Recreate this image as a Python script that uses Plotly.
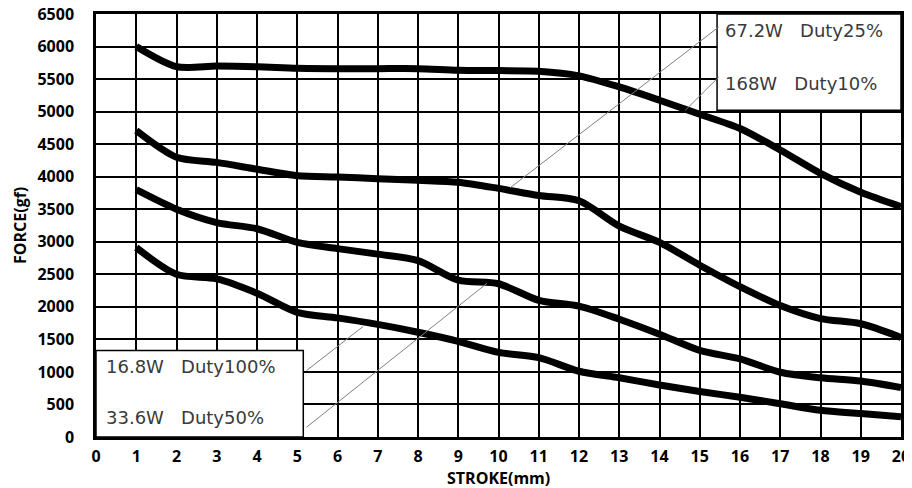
import plotly.graph_objects as go

stroke = list(range(1, 21))
force_168w = [6000, 5690, 5700, 5690, 5665, 5660, 5660, 5660, 5635, 5630, 5620, 5550, 5380, 5175, 4960, 4740, 4410, 4050, 3760, 3540]
force_67w = [4710, 4300, 4220, 4115, 4015, 3995, 3970, 3945, 3915, 3820, 3710, 3630, 3240, 2990, 2640, 2310, 2020, 1820, 1740, 1530]
force_33w = [3800, 3500, 3295, 3200, 2990, 2895, 2810, 2710, 2410, 2355, 2100, 2010, 1810, 1580, 1330, 1200, 995, 910, 860, 760]
force_16w = [2910, 2500, 2430, 2210, 1915, 1830, 1730, 1610, 1470, 1300, 1220, 1010, 910, 800, 700, 610, 510, 410, 360, 310]

labels = ["168W  Duty10%", "67.2W  Duty25%", "33.6W  Duty50%", "16.8W  Duty100%"]
series = [force_168w, force_67w, force_33w, force_16w]

x_ticks = list(range(0, 21))
y_ticks = list(range(0, 6501, 500))

fig = go.Figure()
for name, ys in zip(labels, series):
    fig.add_trace(go.Scatter(x=stroke, y=ys, mode="lines", name=name,
                             line=dict(color="black", width=7, shape="spline", smoothing=0.8),
                             showlegend=False))

tick_font = dict(family="Open Sans", size=16, color="black", weight="bold")
title_font = dict(family="Open Sans", size=16, color="black", weight="bold")

fig.update_xaxes(range=[0, 20], tickvals=x_ticks, showgrid=True, gridcolor="black", gridwidth=1.5,
                 showline=True, linecolor="black", linewidth=2.5, mirror=True, zeroline=False,
                 tickfont=tick_font, ticks="", ticklabelstandoff=3, automargin=False,
                 ticklabeloverflow="allow")
fig.update_yaxes(range=[0, 6500], tickvals=y_ticks, showgrid=True, gridcolor="black", gridwidth=1.5,
                 showline=True, linecolor="black", linewidth=2.5, mirror=True, zeroline=False,
                 tickfont=tick_font, ticks="", ticklabelstandoff=16, automargin=False,
                 ticklabeloverflow="allow")

shapes = []
# label boxes
shapes.append(dict(type="rect", xref="x", yref="y", x0=0, x1=5.15, y0=0, y1=1330,
                   fillcolor="white", line=dict(color="black", width=1.5), layer="above"))
shapes.append(dict(type="rect", xref="x", yref="y", x0=15.43, x1=20, y0=5020, y1=6500,
                   fillcolor="white", line=dict(color="black", width=1.5), layer="above"))
# leader lines
leader = dict(color="#808080", width=1)
shapes.append(dict(type="line", xref="x", yref="y", x0=5.23, y0=1020, x1=6.64, y1=1700, line=leader))
shapes.append(dict(type="line", xref="x", yref="y", x0=5.23, y0=150, x1=9.71, y1=2360, line=leader))
shapes.append(dict(type="line", xref="x", yref="y", x0=15.47, y0=6300, x1=10.29, y1=3830, line=leader))
shapes.append(dict(type="line", xref="x", yref="y", x0=15.47, y0=5530, x1=14.64, y1=5020, line=leader))
fig.update_layout(shapes=shapes)

lab_font = dict(family="DejaVu Sans", size=18, color="#3a3a3a")
gap = "\u00a0\u00a0\u00a0"
anns = [
    dict(x=0.21, y=1080, text="16.8W" + gap + "Duty100%"),
    dict(x=0.21, y=300, text="33.6W" + gap + "Duty50%"),
    dict(x=15.57, y=6250, text="67.2W" + gap + "Duty25%"),
    dict(x=15.57, y=5430, text="168W" + gap + "Duty10%"),
]
for a in anns:
    fig.add_annotation(x=a["x"], y=a["y"], text=a["text"], xref="x", yref="y", showarrow=False,
                       xanchor="left", yanchor="middle", font=lab_font)

# axis titles
fig.add_annotation(x=0.5, y=-0.098, xref="paper", yref="paper", text="STROKE(mm)", showarrow=False,
                   xanchor="center", yanchor="middle", font=title_font)
fig.add_annotation(x=-0.095, y=0.5, xref="paper", yref="paper", text="FORCE(gf)", showarrow=False,
                   xanchor="center", yanchor="middle", textangle=-90, font=title_font)

fig.update_layout(width=904, height=480, margin=dict(l=88, r=11, t=6, b=51),
                  paper_bgcolor="white", plot_bgcolor="white")

fig.write_html("out.html")
